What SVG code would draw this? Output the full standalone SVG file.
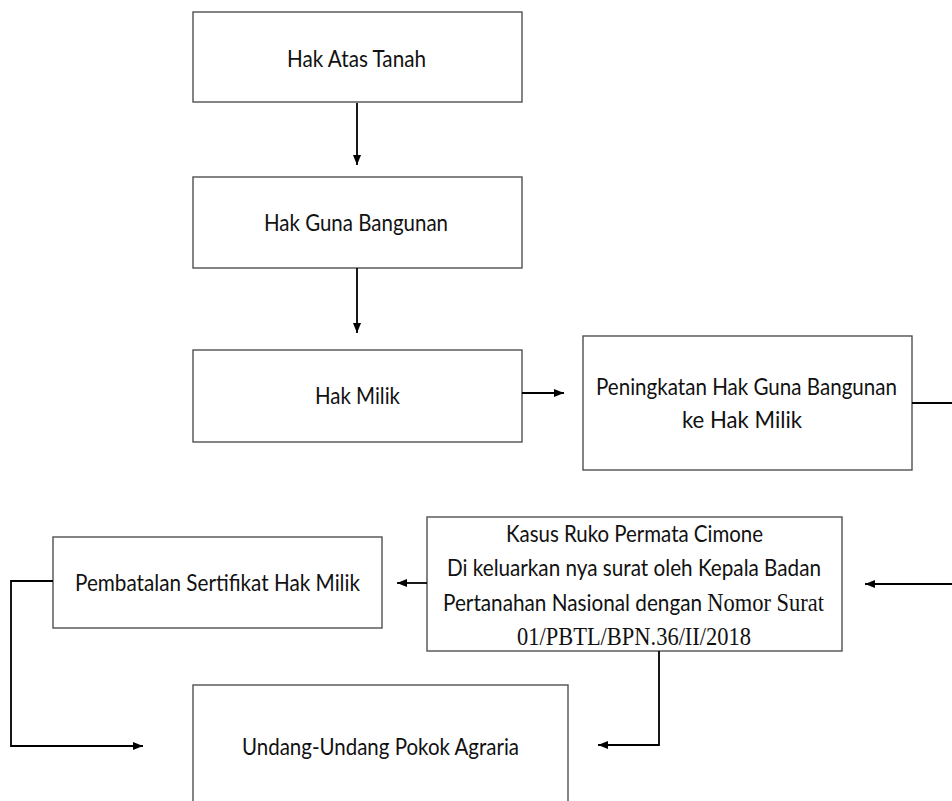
<svg xmlns="http://www.w3.org/2000/svg" width="952" height="801" viewBox="0 0 952 801">
<defs>
<marker id="ah" viewBox="0 0 10 8" refX="10" refY="4" markerWidth="10" markerHeight="8" markerUnits="userSpaceOnUse" orient="auto">
<path d="M0,0 L10,4 L0,8 Z" fill="#000"/>
</marker>
<style>
.box{fill:#fff;stroke:#505050;stroke-width:1.4}
.t{font-family:Lato,"Open Sans","Liberation Sans",sans-serif;font-size:24px;fill:#111}
.s{font-family:"Liberation Serif",serif;font-size:26px;fill:#111}
.c{fill:none;stroke:#000;stroke-width:1.8}
</style>
</defs>
<rect width="952" height="801" fill="#fff"/>
<g id="n1"><rect class="box" x="193" y="12" width="329" height="90"/>
<text class="t" x="287" y="67" textLength="139" lengthAdjust="spacingAndGlyphs">Hak Atas Tanah</text></g>
<g id="n2"><rect class="box" x="193" y="177" width="329" height="91"/>
<text class="t" x="264" y="231" textLength="184" lengthAdjust="spacingAndGlyphs">Hak Guna Bangunan</text></g>
<g id="n3"><rect class="box" x="193" y="350" width="329" height="92"/>
<text class="t" x="315" y="404" textLength="85" lengthAdjust="spacingAndGlyphs">Hak Milik</text></g>
<g id="n4"><rect class="box" x="583" y="336" width="329" height="134"/>
<text class="t" x="596" y="395" textLength="301" lengthAdjust="spacingAndGlyphs">Peningkatan Hak Guna Bangunan</text>
<text class="t" x="682" y="428" textLength="120" lengthAdjust="spacingAndGlyphs">ke Hak Milik</text></g>
<g id="n5"><rect class="box" x="427" y="517" width="415" height="134"/>
<text class="t" x="506" y="542" textLength="257" lengthAdjust="spacingAndGlyphs">Kasus Ruko Permata Cimone</text>
<text class="t" x="447" y="576" textLength="374" lengthAdjust="spacingAndGlyphs">Di keluarkan nya surat oleh Kepala Badan</text>
<text class="t" x="443" y="611" textLength="381" lengthAdjust="spacingAndGlyphs">Pertanahan Nasional dengan <tspan style="font-family:'Liberation Serif',serif;font-size:26px">Nomor Surat</tspan></text>
<text class="s" x="517" y="645" textLength="234" lengthAdjust="spacingAndGlyphs">01/PBTL/BPN.36/II/2018</text></g>
<g id="n6"><rect class="box" x="53" y="537" width="329" height="91"/>
<text class="t" x="75" y="591" textLength="285" lengthAdjust="spacingAndGlyphs">Pembatalan Sertifikat Hak Milik</text></g>
<g id="n7"><rect class="box" x="193" y="685" width="375" height="140"/>
<text class="t" x="242" y="755" textLength="277" lengthAdjust="spacingAndGlyphs">Undang-Undang Pokok Agraria</text></g>
<g id="connectors">
<path class="c" d="M357,103 V165" marker-end="url(#ah)"/>
<path class="c" d="M357,268 V333" marker-end="url(#ah)"/>
<path class="c" d="M522,393 H564" marker-end="url(#ah)"/>
<path class="c" d="M912,403 H960 V584 H865" marker-end="url(#ah)"/>
<path class="c" d="M427,583 H397" marker-end="url(#ah)"/>
<path class="c" d="M53,581 H11 V746 H143" marker-end="url(#ah)"/>
<path class="c" d="M659,651 V745 H598" marker-end="url(#ah)"/>
</g>
</svg>
